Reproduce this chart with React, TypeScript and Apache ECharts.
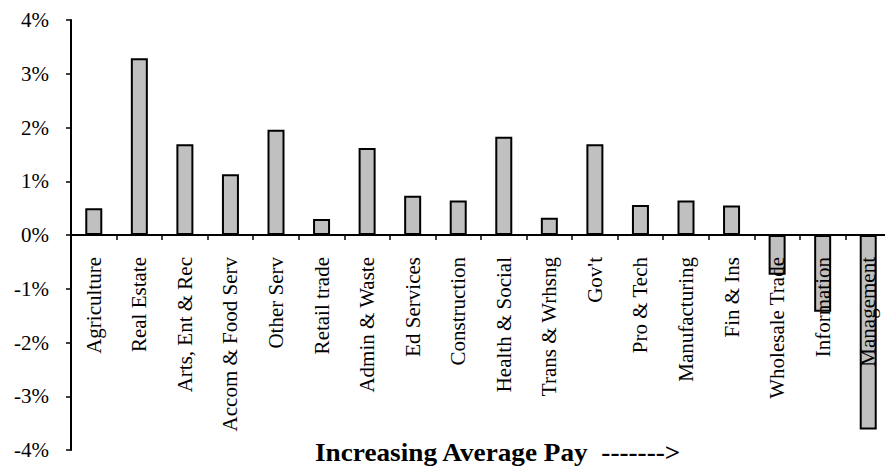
import React, { useEffect, useRef } from "react";
import * as echarts from "echarts";

// Industries ordered by increasing average pay
const industries = [
  "Agriculture",
  "Real Estate",
  "Arts, Ent & Rec",
  "Accom & Food Serv",
  "Other Serv",
  "Retail trade",
  "Admin & Waste",
  "Ed Services",
  "Construction",
  "Health & Social",
  "Trans & Wrhsng",
  "Gov't",
  "Pro & Tech",
  "Manufacturing",
  "Fin & Ins",
  "Wholesale Trade",
  "Information",
  "Management",
];

// Percent change per industry
const changePct = [
  0.5, 3.29, 1.69, 1.13, 1.96, 0.3, 1.62, 0.73, 0.64, 1.83, 0.32, 1.69, 0.56,
  0.64, 0.55, -0.74, -1.43, -3.62,
];

const yMin = -4;
const yMax = 4;
const yStep = 1;

const axisTitle = "Increasing Average Pay  ------->";

const FONT = "'Liberation Serif', 'Times New Roman', serif";

const GRID_TOP = 20;
const GRID_BOTTOM = 18;
const HEIGHT = 468;

export default function App() {
  const ref = useRef<HTMLDivElement>(null);

  useEffect(() => {
    if (!ref.current) return;
    const chart = echarts.init(ref.current, undefined, { renderer: "svg" });
    // Category axis sits on the zero line: shift it up from the grid bottom
    const plotH = HEIGHT - GRID_TOP - GRID_BOTTOM;
    const zeroFromBottom = (plotH * (0 - yMin)) / (yMax - yMin);
    chart.setOption({
      animation: false,
      backgroundColor: "#ffffff",
      grid: {
        left: 71,
        right: -6,
        top: GRID_TOP,
        bottom: GRID_BOTTOM,
        containLabel: false,
        outerBoundsMode: "none",
      },
      xAxis: {
        type: "category",
        data: industries,
        boundaryGap: true,
        position: "bottom",
        offset: -zeroFromBottom,
        z: 5,
        axisLine: { onZero: false, lineStyle: { color: "#000", width: 2 } },
        axisTick: {
          show: true,
          alignWithLabel: false,
          length: 5,
          inside: false,
          lineStyle: { color: "#000", width: 1.5 },
        },
        axisLabel: {
          interval: 0,
          rotate: 90,
          margin: 22,
          color: "#000",
          fontFamily: FONT,
          fontSize: 21,
          hideOverlap: false,
        },
        splitLine: { show: false },
      },
      yAxis: {
        type: "value",
        min: yMin,
        max: yMax,
        interval: yStep,
        axisLine: { show: true, onZero: false, lineStyle: { color: "#000", width: 2 } },
        axisTick: { show: true, length: 5, lineStyle: { color: "#000", width: 1.5 } },
        axisLabel: {
          margin: 22,
          color: "#000",
          fontFamily: FONT,
          fontSize: 21,
          formatter: (v: number) => `${v}%`,
        },
        splitLine: { show: false },
      },
      series: [
        {
          type: "bar",
          data: changePct,
          barWidth: 17,
          z: 2,
          itemStyle: { color: "#c0c0c0", borderColor: "#000", borderWidth: 2 },
        },
      ],
      graphic: [
        {
          type: "text",
          x: 315,
          y: 453,
          scaleX: 1.09,
          z: 10,
          style: {
            text: axisTitle,
            fontFamily: FONT,
            fontWeight: "bold",
            fontSize: 25,
            fill: "#000",
            verticalAlign: "middle",
            align: "left",
          },
        },
      ],
    });
    return () => chart.dispose();
  }, []);

  return (
    <div
      ref={ref}
      style={{ position: "absolute", left: 0, top: 0, width: 885, height: HEIGHT }}
    />
  );
}
